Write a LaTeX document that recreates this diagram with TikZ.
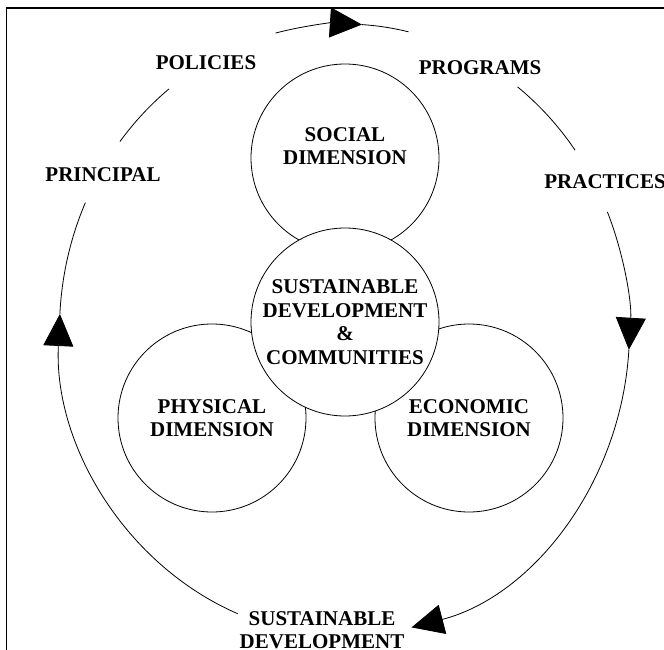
\documentclass[tikz,border=0pt]{standalone}
\usepackage{fontspec}
\setmainfont{Liberation Serif}
\usetikzlibrary{arrows.meta,positioning,calc}

\begin{document}
\begin{tikzpicture}[x=1pt,y=1pt,>={Triangle[length=32pt,width=30pt]},
  line width=0.8pt,font=\bfseries\fontsize{21}{23.5}\selectfont,
  main node/.style={circle,draw,fill=white,minimum size=188pt,inner sep=0pt,align=center},
  lab/.style={inner sep=0pt,align=center},
  cyc/.style={x radius=285pt,y radius=306pt}]
  \useasboundingbox (0,0) rectangle (664,-650);
  \clip (0,0) rectangle (664,-650);
  \draw[line width=1.5pt] (6.5,-660) |- (670,-8);

  % the three dimensions and the core
  \node[main node,text depth=24pt](SO) at (345,-158){SOCIAL\\DIMENSION};
  \node[main node](PH) at (212,-418){PHYSICAL\\DIMENSION};
  \node[main node](EC) at (469,-418){ECONOMIC\\DIMENSION};
  \node[main node](SD) at (345,-322){SUSTAINABLE\\DEVELOPMENT\\\&\\COMMUNITIES};

  % the cycle labels
  \node[lab](PI) at (103,-175){PRINCIPAL};
  \node[lab](PO) at (206,-63){POLICIES};
  \node[lab](PG) at (480,-68){PROGRAMS};
  \node[lab,anchor=west](PR) at (544,-182){PRACTICES};
  \node[lab](SV) at (322,-630){SUSTAINABLE\\DEVELOPMENT};

  % points on the outer loop
  \coordinate (O) at (344.5,-330);
  \path (O) ++(142:285pt and 306pt) coordinate (l1)
        (O) ++(104:285pt and 306pt) coordinate (t1)
        (O) ++(52.6:285pt and 306pt) coordinate (r1)
        (O) ++(22.7:285pt and 306pt) coordinate (r2)
        (O) ++(248:285pt and 306pt) coordinate (b1);

  \draw[cyc] (l1) arc[start angle=142,end angle=128];
  \draw[cyc,->] (t1) arc[start angle=104,end angle=86.5] coordinate (t2);
  \draw[cyc] (t2) arc[start angle=86.5,end angle=77];
  \draw[cyc] (r1) arc[start angle=52.6,end angle=36];
  \draw[cyc,->] (r2) arc[start angle=22.7,end angle=-3.7] coordinate (r3);
  \draw[cyc,->] (r3) arc[start angle=-3.7,end angle=-76.4];
  \draw[cyc,->] (b1) arc[start angle=248,end angle=177] coordinate (b2);
  \draw[cyc] (b2) arc[start angle=177,end angle=155.4];
\end{tikzpicture}
\end{document}
